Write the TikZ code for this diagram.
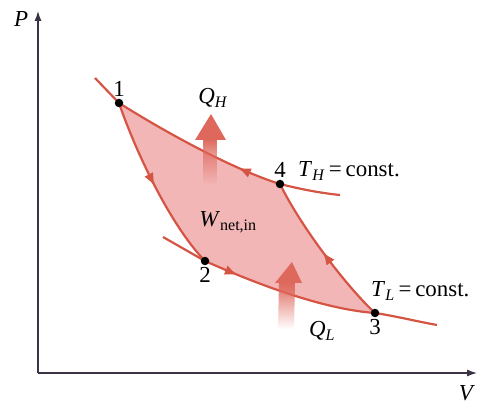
\documentclass[tikz,border=0pt]{standalone}
\usepackage{fontspec}
\setmainfont{Liberation Serif}
\usepackage{tikz}
\usetikzlibrary{arrows.meta,decorations.markings,fadings,positioning}

\definecolor{CycleLine}{RGB}{214,84,68}
\definecolor{CycleFill}{RGB}{242,182,182}
\definecolor{HeatFlow}{RGB}{222,104,92}
\definecolor{AxisLine}{RGB}{60,50,70}

\begin{document}
\begin{tikzpicture}[line join=bevel,
  font=\fontsize{23}{25}\selectfont,
  statept/.style={circle,fill=black,inner sep=0pt,minimum size=8.5bp},
  isoline/.style={draw=CycleLine,line width=2.2bp},
  flow/.style={postaction={decorate},decoration={markings,
    mark=at position #1 with {\arrow{Latex[length=13bp,width=10bp]}}}},
  heathead/.style={fill=HeatFlow},
  heatshaft/.style={fill=HeatFlow,path fading=south},
  lbl/.style={inner sep=1bp}]
\useasboundingbox (0bp,0bp) rectangle (477bp,405bp);
%%
\coordinate (c_1) at (119bp,302bp);
\coordinate (c_2) at (205bp,144bp);
\coordinate (c_3) at (375bp,92bp);
\coordinate (c_4) at (280bp,221bp);
\coordinate (c_origin) at (38bp,32bp);
\coordinate (c_ptop) at (38bp,394bp);
\coordinate (c_vend) at (477bp,32bp);

%% axes
\draw [AxisLine,line width=1.2bp,-{Latex[length=10bp,width=7bp]}]
  (c_origin) -- (c_ptop);
\draw [AxisLine,line width=1.2bp,-{Latex[length=10bp,width=7bp]}]
  (c_origin) -- (c_vend);
\node (lbl_P) at (21bp,386bp) [lbl] {\textit{P}};
\node (lbl_V) at (467bp,12bp) [lbl] {\textit{V}};

%% cycle area
\fill [CycleFill]
  (c_1) .. controls (135bp,255bp) and (170bp,180bp) .. (c_2)
  .. controls (250bp,124bp) and (320bp,96bp) .. (c_3)
  .. controls (345bp,120bp) and (300bp,180bp) .. (c_4)
  .. controls (235bp,235bp) and (170bp,270bp) .. (c_1) -- cycle;

%% isotherms
\draw [isoline] (95bp,327bp) -- (c_1);
\draw [isoline,flow=0.25]
  (c_4) .. controls (235bp,235bp) and (170bp,270bp) .. (c_1);
\draw [isoline]
  (c_4) .. controls (300bp,216bp) and (320bp,212bp) .. (340bp,210bp);
\draw [isoline] (163bp,168bp) -- (c_2);
\draw [isoline,flow=0.2]
  (c_2) .. controls (250bp,124bp) and (320bp,96bp) .. (c_3);
\draw [isoline]
  (c_3) .. controls (395bp,89bp) and (415bp,84bp) .. (437bp,80bp);

%% adiabats
\draw [isoline,flow=0.5]
  (c_1) .. controls (135bp,255bp) and (170bp,180bp) .. (c_2);
\draw [isoline,flow=0.5]
  (c_3) .. controls (345bp,120bp) and (300bp,180bp) .. (c_4);

%% heat arrows
\fill [heatshaft] (203bp,220bp) rectangle (217bp,266bp);
\fill [heathead] (195bp,265bp) -- (211bp,291bp) -- (226bp,265bp) -- cycle;
\fill [heatshaft] (278bp,76bp) -- (279bp,123bp) -- (295bp,123bp)
  -- (294bp,76bp) -- cycle;
\fill [heathead] (275bp,122bp) -- (292bp,143bp) -- (302bp,122bp) -- cycle;

%% states
\node (st_1) at (c_1) [statept] {};
\node (st_2) at (c_2) [statept] {};
\node (st_3) at (c_3) [statept] {};
\node (st_4) at (c_4) [statept] {};
\node (num_1) [lbl,above=5bp of st_1.center,anchor=south] {1};
\node (num_2) [lbl,below=5bp of st_2.center,anchor=north] {2};
\node (num_3) [lbl,below=5bp of st_3.center,anchor=north] {3};
\node (num_4) [lbl,above=5bp of st_4.center,anchor=south] {4};

%% labels
\node (lbl_QH) at (213bp,307bp) [lbl] {\textit{Q}\textsubscript{\textit{H}}};
\node (lbl_QL) at (322bp,74bp) [lbl] {\textit{Q}\textsubscript{\textit{L}}};
\node (lbl_W) at (228bp,183bp) [lbl] {\textit{W}\textsubscript{net,in}};
\node (lbl_TH) at (297bp,234bp) [lbl,anchor=west]
  {\textit{T}\textsubscript{\textit{H}}\,=\,const.};
\node (lbl_TL) at (370bp,114bp) [lbl,anchor=west]
  {\textit{T}\textsubscript{\textit{L}}\,=\,const.};
\end{tikzpicture}
\end{document}
